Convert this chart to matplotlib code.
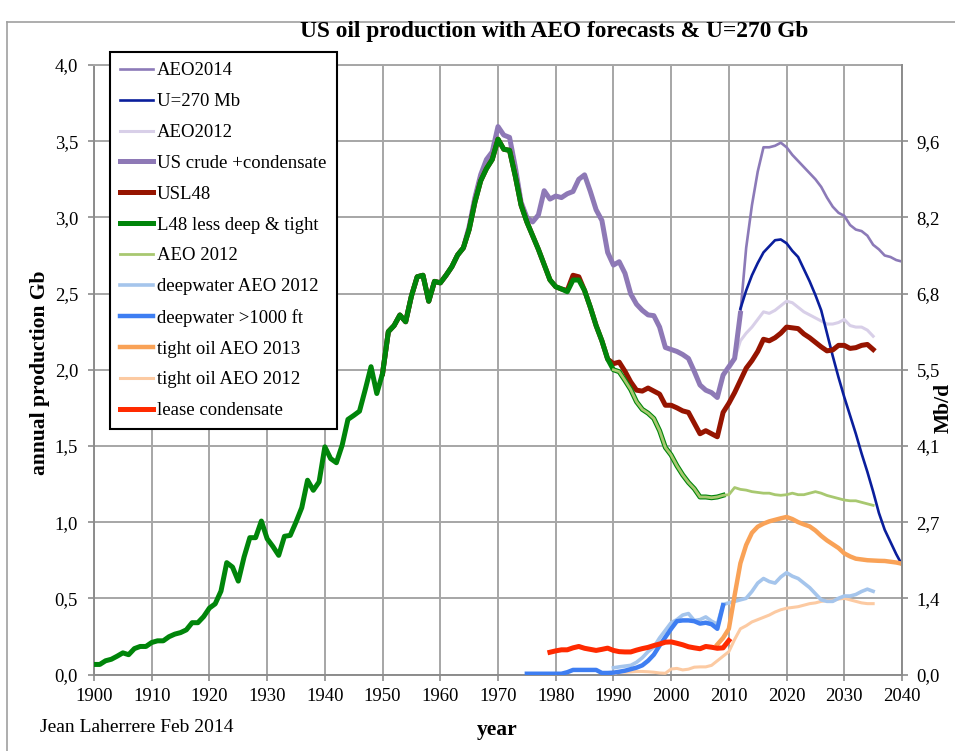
import matplotlib
matplotlib.use('Agg')
import matplotlib.pyplot as plt
from matplotlib.lines import Line2D

plt.rcParams['font.family'] = ['Liberation Serif', 'DejaVu Serif']

# ---------------- data (Gb/yr) ----------------
l48_years = list(range(1900, 2010))
l48_less_deep_tight = [
    0.066, 0.066, 0.09, 0.10, 0.12, 0.142, 0.13, 0.17, 0.184, 0.184,
    0.21, 0.221, 0.221, 0.248, 0.265, 0.275, 0.293, 0.34, 0.34, 0.38,
    0.436, 0.464, 0.547, 0.734, 0.705, 0.613, 0.771, 0.898, 0.898, 1.007,
    0.891, 0.84, 0.782, 0.907, 0.913, 1.0, 1.095, 1.275, 1.209, 1.264,
    1.494, 1.417, 1.39, 1.505, 1.674, 1.70, 1.728, 1.87, 2.02, 1.844,
    1.976, 2.25, 2.29, 2.359, 2.315, 2.484, 2.61, 2.62, 2.45, 2.58,
    2.57, 2.62, 2.676, 2.753, 2.80, 2.92, 3.10, 3.24, 3.32, 3.38,
    3.513, 3.447, 3.44, 3.27, 3.08, 2.97, 2.88, 2.79, 2.69, 2.59,
    2.545, 2.53, 2.512, 2.589, 2.589, 2.52, 2.41, 2.29, 2.19, 2.07,
    2.0, 1.987, 1.93, 1.87, 1.79, 1.74, 1.715, 1.68, 1.60, 1.49,
    1.44, 1.37, 1.31, 1.26, 1.22, 1.165, 1.165, 1.16, 1.165, 1.176,
]

us_cc_years = list(range(1950, 2013))
us_crude_cond = [
    1.976, 2.25, 2.29, 2.359, 2.315, 2.484, 2.61, 2.62, 2.45, 2.58,
    2.57, 2.62, 2.676, 2.753, 2.80, 2.94, 3.13, 3.28, 3.38, 3.43,
    3.596, 3.54, 3.525, 3.33, 3.10, 3.00, 2.97, 3.016, 3.175, 3.12,
    3.14, 3.13, 3.155, 3.17, 3.25, 3.279, 3.17, 3.05, 2.98, 2.77,
    2.687, 2.709, 2.633, 2.497, 2.43, 2.39, 2.36, 2.355, 2.28, 2.146,
    2.133, 2.12, 2.10, 2.074, 1.99, 1.90, 1.866, 1.85, 1.818, 1.965,
    2.02, 2.074, 2.37,
]

usl48_years = list(range(1950, 2036))
usl48 = [
    1.976, 2.25, 2.29, 2.359, 2.315, 2.484, 2.61, 2.62, 2.45, 2.58,
    2.57, 2.62, 2.676, 2.753, 2.80, 2.92, 3.10, 3.24, 3.32, 3.38,
    3.513, 3.447, 3.44, 3.27, 3.08, 2.97, 2.88, 2.79, 2.69, 2.59,
    2.545, 2.53, 2.52, 2.62, 2.61, 2.52, 2.41, 2.29, 2.19, 2.07,
    2.04, 2.05, 1.99, 1.92, 1.866, 1.86, 1.88, 1.86, 1.84, 1.767,
    1.767, 1.75, 1.73, 1.72, 1.65, 1.58, 1.60, 1.58, 1.56, 1.72,
    1.78, 1.85, 1.93, 2.01, 2.06, 2.12, 2.20, 2.19, 2.21, 2.24,
    2.28, 2.275, 2.27, 2.235, 2.21, 2.18, 2.15, 2.124, 2.13, 2.16,
    2.16, 2.14, 2.145, 2.16, 2.166, 2.133,
]

aeo2014_years = list(range(2012, 2041))
aeo2014 = [
    2.37, 2.80, 3.08, 3.30, 3.46, 3.46, 3.47, 3.49, 3.46, 3.41,
    3.37, 3.33, 3.29, 3.25, 3.20, 3.13, 3.07, 3.03, 3.01, 2.95,
    2.92, 2.91, 2.88, 2.82, 2.79, 2.75, 2.74, 2.72, 2.71,
]

u270_years = list(range(2012, 2041))
u270 = [
    2.40, 2.52, 2.62, 2.70, 2.77, 2.81, 2.85, 2.855, 2.83, 2.78,
    2.74, 2.66, 2.58, 2.49, 2.39, 2.24, 2.09, 1.95, 1.82, 1.70,
    1.58, 1.45, 1.33, 1.20, 1.06, 0.95, 0.87, 0.79, 0.72,
]

aeo2012_years = list(range(2010, 2036))
aeo2012 = [
    2.00, 2.07, 2.19, 2.24, 2.28, 2.33, 2.38, 2.37, 2.39, 2.42,
    2.45, 2.44, 2.41, 2.38, 2.36, 2.34, 2.32, 2.30, 2.30, 2.31,
    2.33, 2.29, 2.28, 2.28, 2.26, 2.22,
]

aeo2012_l48_years = list(range(1990, 2036))
aeo2012_l48 = [
    2.0, 1.987, 1.93, 1.87, 1.79, 1.74, 1.715, 1.68, 1.60, 1.49,
    1.44, 1.37, 1.31, 1.26, 1.22, 1.165, 1.165, 1.16, 1.165, 1.176,
    1.18, 1.227, 1.215, 1.21, 1.20, 1.195, 1.19, 1.19, 1.18, 1.176,
    1.18, 1.19, 1.18, 1.18, 1.19, 1.20, 1.19, 1.175, 1.165, 1.155,
    1.145, 1.14, 1.14, 1.13, 1.12, 1.11,
]

deep_aeo2012_years = list(range(1990, 2036))
deep_aeo2012 = [
    0.044, 0.05, 0.055, 0.06, 0.08, 0.11, 0.15, 0.18, 0.24, 0.29,
    0.34, 0.36, 0.39, 0.40, 0.355, 0.36, 0.378, 0.35, 0.33, 0.46,
    0.47, 0.48, 0.49, 0.50, 0.545, 0.60, 0.63, 0.61, 0.60, 0.64,
    0.668, 0.645, 0.63, 0.60, 0.57, 0.53, 0.49, 0.48, 0.48, 0.50,
    0.515, 0.515, 0.525, 0.545, 0.56, 0.546,
]

deep1000_years = list(range(1975, 2010))
deep1000 = [
    0.005, 0.005, 0.005, 0.005, 0.005, 0.005, 0.005, 0.015, 0.03, 0.03,
    0.03, 0.03, 0.03, 0.01, 0.01, 0.012, 0.018, 0.025, 0.035, 0.045,
    0.06, 0.09, 0.13, 0.19, 0.245, 0.30, 0.35, 0.355, 0.355, 0.35,
    0.334, 0.34, 0.33, 0.30, 0.455,
]

tight2013_years = list(range(2008, 2041))
tight2013 = [
    0.197, 0.24, 0.30, 0.52, 0.73, 0.85, 0.93, 0.97, 0.99, 1.005,
    1.015, 1.025, 1.034, 1.02, 1.00, 0.985, 0.972, 0.945, 0.91, 0.88,
    0.855, 0.83, 0.795, 0.775, 0.76, 0.755, 0.75, 0.748, 0.746, 0.745,
    0.74, 0.735, 0.727,
]

tight2012_years = list(range(1990, 2036))
tight2012 = [
    0.0, 0.02, 0.015, 0.017, 0.02, 0.02, 0.018, 0.015, 0.01, 0.008,
    0.036, 0.04, 0.03, 0.035, 0.048, 0.05, 0.05, 0.06, 0.09, 0.12,
    0.15, 0.23, 0.30, 0.32, 0.345, 0.36, 0.375, 0.39, 0.41, 0.425,
    0.435, 0.44, 0.445, 0.455, 0.465, 0.47, 0.48, 0.485, 0.487, 0.495,
    0.50, 0.49, 0.48, 0.47, 0.465, 0.465,
]

lease_years = list(range(1979, 2011))
lease_cond = [
    0.146, 0.155, 0.162, 0.162, 0.175, 0.184, 0.172, 0.165, 0.158, 0.165,
    0.173, 0.158, 0.15, 0.148, 0.148, 0.16, 0.17, 0.178, 0.19, 0.20,
    0.212, 0.214, 0.205, 0.195, 0.182, 0.175, 0.169, 0.184, 0.179, 0.172,
    0.175, 0.223,
]

left_ticks = [0.0, 0.5, 1.0, 1.5, 2.0, 2.5, 3.0, 3.5, 4.0]
left_labels = ['0,0', '0,5', '1,0', '1,5', '2,0', '2,5', '3,0', '3,5', '4,0']
right_ticks = [0.0, 0.5, 1.0, 1.5, 2.0, 2.5, 3.0, 3.5]
right_labels = ['0,0', '1,4', '2,7', '4,1', '5,5', '6,8', '8,2', '9,6']
x_ticks = list(range(1900, 2041, 10))

# ---------------- figure ----------------
W, H = 955, 751
fig = plt.figure(figsize=(W / 100, H / 100), dpi=100)
ax = fig.add_axes([94 / W, 1 - 674.5 / H, 808 / W, 609.5 / H])

grid_c = '#a6a6a6'
spine_c = '#8c8c8c'

c_aeo2014 = '#8c7ab8'
c_u270 = '#0a1e9c'
c_aeo2012 = '#d8cfe8'
c_uscc = '#8e79b6'
c_usl48 = '#961400'
c_l48 = '#00850a'
c_aeo12g = '#a8c870'
c_deepaeo = '#a5c5ec'
c_deep = '#3e7ef2'
c_tight13 = '#f9a257'
c_tight12 = '#fccaa2'
c_lease = '#ff2a00'

lw_thick = 3.6
lines = []
lines.append(ax.plot(aeo2014_years, aeo2014, color=c_aeo2014, lw=1.9, zorder=3, label='AEO2014')[0])
lines.append(ax.plot(u270_years, u270, color=c_u270, lw=1.9, zorder=4, label='U=270 Mb')[0])
lines.append(ax.plot(aeo2012_years, aeo2012, color=c_aeo2012, lw=2.2, zorder=3, label='AEO2012')[0])
lines.append(ax.plot(us_cc_years, us_crude_cond, color=c_uscc, lw=lw_thick, zorder=5, label='US crude +condensate')[0])
lines.append(ax.plot(usl48_years, usl48, color=c_usl48, lw=lw_thick, zorder=6, label='USL48')[0])
lines.append(ax.plot(l48_years, l48_less_deep_tight, color=c_l48, lw=lw_thick, zorder=7, label='L48 less deep & tight')[0])
lines.append(ax.plot(aeo2012_l48_years, aeo2012_l48, color=c_aeo12g, lw=2.0, zorder=8, label='AEO 2012')[0])
lines.append(ax.plot(deep_aeo2012_years, deep_aeo2012, color=c_deepaeo, lw=2.6, zorder=8, label='deepwater AEO 2012')[0])
lines.append(ax.plot(deep1000_years, deep1000, color=c_deep, lw=3.2, zorder=9, label='deepwater >1000 ft')[0])
lines.append(ax.plot(tight2013_years, tight2013, color=c_tight13, lw=3.2, zorder=10, label='tight oil AEO 2013')[0])
lines.append(ax.plot(tight2012_years, tight2012, color=c_tight12, lw=2.2, zorder=7.5, label='tight oil AEO 2012')[0])
lines.append(ax.plot(lease_years, lease_cond, color=c_lease, lw=lw_thick, zorder=11, label='lease condensate')[0])

ax.set_xlim(1900, 2040)
ax.set_ylim(0, 4.0)
ax.set_xticks(x_ticks)
ax.set_xticklabels([str(v) for v in x_ticks])
ax.set_yticks(left_ticks)
ax.set_yticklabels(left_labels)
ax.grid(True, color=grid_c, lw=1.4, zorder=0)
ax.set_axisbelow(True)
for s in ['left', 'bottom']:
    ax.spines[s].set_color(spine_c)
    ax.spines[s].set_linewidth(1.4)
ax.spines['top'].set_color(grid_c)
ax.spines['top'].set_linewidth(1.4)
ax.spines['right'].set_visible(False)
ax.tick_params(axis='both', which='major', direction='out', length=4.5, width=1.2,
               color=spine_c, labelsize=13.5, labelcolor='black')
ax.tick_params(axis='x', pad=5)
ax.tick_params(axis='y', pad=7)

ax2 = ax.twinx()
ax2.set_ylim(0, 4.0)
ax2.set_yticks(right_ticks)
ax2.set_yticklabels(right_labels)
for s in ['left', 'top', 'bottom']:
    ax2.spines[s].set_visible(False)
ax2.spines['right'].set_color(spine_c)
ax2.spines['right'].set_linewidth(1.4)
ax2.tick_params(axis='y', direction='out', length=4.5, width=1.2, color=spine_c,
                labelsize=13.5, pad=6)

# legend
leg = ax2.legend(handles=lines, loc='upper left',
                 bbox_to_anchor=(110 / W, 1 - 52 / H), bbox_transform=fig.transFigure,
                 borderaxespad=0, fancybox=False, framealpha=1, edgecolor='black',
                 prop={'family': ['Liberation Serif'], 'size': 13.5},
                 handlelength=1.75, handletextpad=0.2, labelspacing=0.73, borderpad=0.55)
leg.get_frame().set_linewidth(1.5)

# texts
fig.text(554 / W, 1 - 32 / H, 'US oil production with AEO forecasts & U=270 Gb',
         ha='center', va='center', fontsize=16.8, fontweight='bold')
fig.text(40 / W, 1 - 373 / H, 'annual production Gb', rotation=90,
         ha='center', va='center', fontsize=15.5, fontweight='bold')
fig.text(497 / W, 1 - 730 / H, 'year', ha='center', va='center',
         fontsize=15.5, fontweight='bold')
fig.text(40 / W, 1 - 727 / H, 'Jean Laherrere Feb 2014', ha='left', va='center',
         fontsize=14)
fig.text(954 / W, 1 - 408 / H, 'Mb/d', rotation=90, ha='right', va='center',
         fontsize=15.5, fontweight='bold')

# outer chart border (partially visible)
fig.add_artist(Line2D([7 / W, 7 / W], [0, 1 - 22 / H], transform=fig.transFigure,
                      color='#a0a0a0', lw=1.2))
fig.add_artist(Line2D([7 / W, 1], [1 - 22 / H, 1 - 22 / H], transform=fig.transFigure,
                      color='#a0a0a0', lw=1.2))

fig.savefig('out.png', dpi=100)
